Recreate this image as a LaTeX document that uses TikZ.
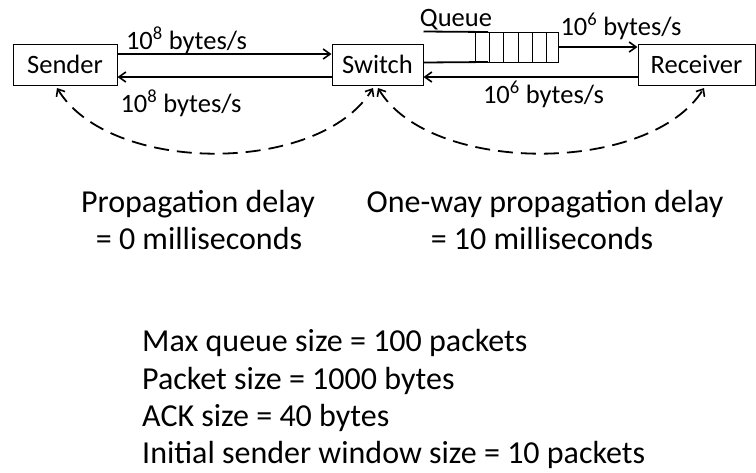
\documentclass[tikz,border=0pt]{standalone}
\usepackage{fontspec}
\setmainfont{Carlito}
\usetikzlibrary{arrows.meta}
\begin{document}
\begin{tikzpicture}[x=1pt,y=-1pt,
  box/.style={draw,line width=1pt,inner sep=0pt,minimum height=41pt,font=\fontsize{26.5}{30}\selectfont},
  lbl/.style={inner sep=0pt,font=\fontsize{26.5}{30}\selectfont},
  big/.style={inner sep=0pt,font=\fontsize{32}{38}\selectfont},
  arr/.style={line width=1.8pt,-{Straight Barb[length=7pt,width=10pt,line width=1.6pt]}},
  dcurve/.style={line width=1.8pt,dash pattern=on 15pt off 8pt,{Straight Barb[length=6pt,width=10pt,line width=1.6pt]}-{Straight Barb[length=6pt,width=10pt,line width=1.6pt]}}]
\useasboundingbox (0,0) rectangle (756,472);
\node[box,minimum width=104pt] (sender) at (65,64.5) {Sender};
\node[box,minimum width=91pt] (switch) at (377.5,64.5) {Switch};
\node[box,minimum width=117pt] (receiver) at (696.5,64.5) {Receiver};
% queue
\node[draw,line width=1pt,minimum width=83pt,minimum height=30pt,inner sep=0pt] (queue) at (516.5,47) {};
\foreach \x in {489,503,518,532,546} \draw[line width=1pt] (\x,32) -- (\x,62);
\draw[line width=1.8pt] (switch.east |- queue.north) -- (488,32);
\draw[line width=1.8pt] (switch.east |- queue.south) -- (488,62);
\node[lbl,anchor=base] (qlabel) at (456,26) {Queue};
% arrows
\draw[arr] (sender.east |- 0,54) -- (switch.west |- 0,54);
\draw[arr] (switch.west |- 0,77) -- (sender.east |- 0,77);
\draw[arr] (queue.east) -- (receiver.west |- queue.east);
\draw[arr] (receiver.west |- 0,77) -- (switch.east |- 0,77);
\node[lbl,anchor=base] (r1) at (186.5,49) {10\textsuperscript{8} bytes/s};
\node[lbl,anchor=base] (r2) at (181,112) {10\textsuperscript{8} bytes/s};
\node[lbl,anchor=base] (r3) at (621,35) {10\textsuperscript{6} bytes/s};
\node[lbl,anchor=base] (r4) at (543.5,103) {10\textsuperscript{6} bytes/s};
% dashed curves
\coordinate (sb) at (57,88);
\coordinate (swl) at (373,88);
\coordinate (swr) at (378,88);
\coordinate (rb) at (704,88);
\draw[dcurve] (sb) .. controls (110,175) and (320,175) .. (swl);
\draw[dcurve] (swr) .. controls (430,175) and (650,175) .. (rb);
% delays
\node[big,anchor=base] (d1) at (198,212) {Propagation delay};
\node[big,anchor=base] (d2) at (199,249) {= 0 milliseconds};
\node[big,anchor=base] (d3) at (545,212) {One-way propagation delay};
\node[big,anchor=base] (d4) at (542,249) {= 10 milliseconds};
% parameters
\node[big,anchor=base west] (p1) at (142,351) {Max queue size = 100 packets};
\node[big,anchor=base west] (p2) at (142,389) {Packet size = 1000 bytes};
\node[big,anchor=base west] (p3) at (142,426) {ACK size = 40 bytes};
\node[big,anchor=base west] (p4) at (142,463) {Initial sender window size = 10 packets};
\end{tikzpicture}
\end{document}
